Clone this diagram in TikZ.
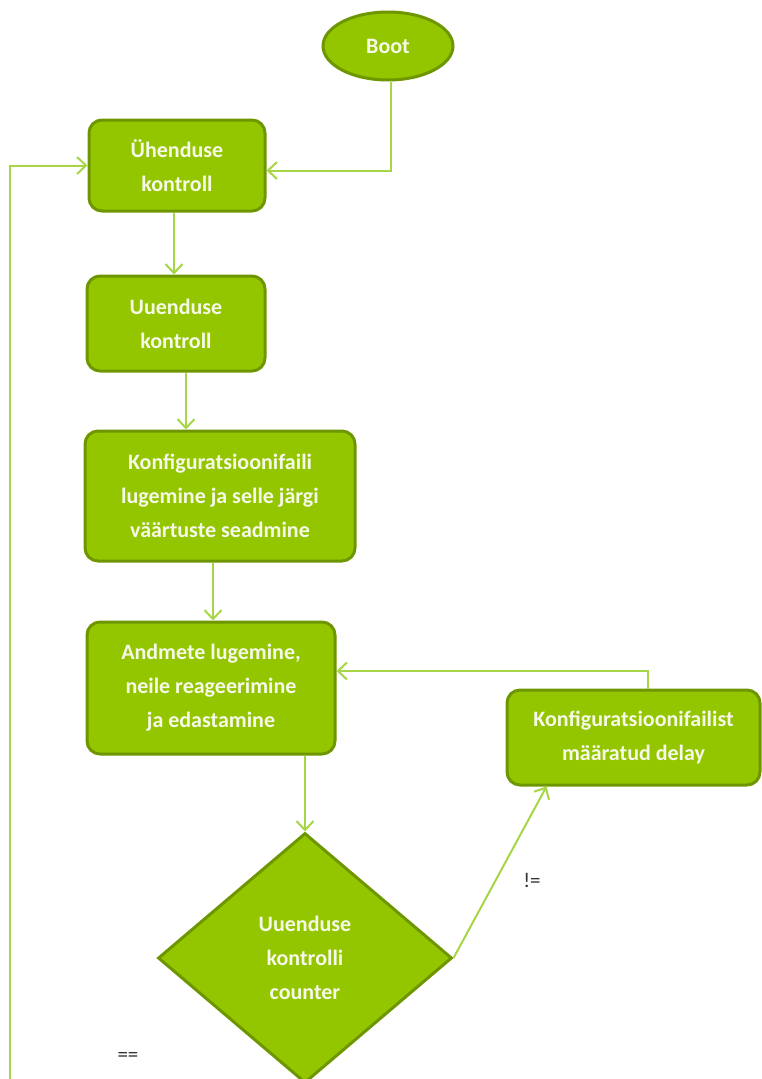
\documentclass[tikz,border=0pt]{standalone}
\usepackage{fontspec}
\setmainfont{Carlito}
\usepackage{tikz}
\usetikzlibrary{positioning}
\usetikzlibrary{arrows.meta}
\usetikzlibrary{shapes.geometric}
\definecolor{boxgreen}{RGB}{148,198,0}
\definecolor{rimgreen}{RGB}{110,150,0}
\definecolor{linkgreen}{RGB}{166,214,70}
\definecolor{boxtext}{RGB}{246,248,232}
\tikzset{basic/.style={draw=rimgreen,fill=boxgreen,line width=3pt,text=boxtext,align=center,inner sep=0pt,font=\bfseries\fontsize{22}{34}\selectfont}}
\tikzset{process/.style={basic,rectangle,rounded corners=13pt}}
\tikzset{start/.style={basic,ellipse}}
\tikzset{decision/.style={basic,diamond}}
\tikzset{link/.style={draw=linkgreen,line width=2pt,->}}
\tikzset{cond/.style={text=black!80,font=\fontsize{21}{24}\selectfont}}

\begin{document}
\begin{tikzpicture}[x=1pt,y=-1pt,>={Straight Barb[length=9pt,width=17pt]}]
                \useasboundingbox (0,0) rectangle (761,1079);
                \node[start,minimum width=130pt,minimum height=68pt] (boot) at (388,46) {Boot};
                \node[process,minimum width=176pt,minimum height=91pt] (yhend) at (177,165.5) {Ühenduse\\kontroll};
                \node[process,minimum width=178pt,minimum height=95pt] (uuend) at (176,323.5) {Uuenduse\\kontroll};
                \node[process,minimum width=270pt,minimum height=130pt] (konf) at (220,496) {Konfiguratsioonifaili\\lugemine ja selle järgi\\väärtuste seadmine};
                \node[process,minimum width=248pt,minimum height=132pt] (andm) at (211,688) {Andmete lugemine,\\neile reageerimine\\ja edastamine};
                \node[process,minimum width=253pt,minimum height=95pt] (delay) at (633.5,737.5) {Konfiguratsioonifailist\\määratud delay};
                \node[decision,minimum width=294pt,minimum height=250pt] (check) at (305,958) {Uuenduse\\kontrolli\\counter};
                \coordinate (loopin) at (10,1079);
                % arrows
                \path[link] ([xshift=3pt]boot.south) |- ([yshift=-5pt]yhend.east);
                \path[link] (loopin) |- (yhend.west);
                \path[link] ([xshift=-3pt]yhend.south) -- ([xshift=-3pt]yhend.south |- uuend.north);
                \path[link] ([xshift=10pt]uuend.south) -- ([xshift=10pt]uuend.south |- konf.north);
                \path[link] ([xshift=-7pt]konf.south) -- ([xshift=-7pt]konf.south |- andm.north);
                \path[link] ([xshift=94pt]andm.south) -- (check.north);
                \path[link] (check.east) -- ([xshift=41pt]delay.south west);
                \path[link] ([xshift=14pt]delay.north) |- ([yshift=17pt]andm.east);
                \node[cond] (ne) at (532,880) {!=};
                \node[cond] (eq) at (128,1057) {==};
            \end{tikzpicture}
\end{document}
